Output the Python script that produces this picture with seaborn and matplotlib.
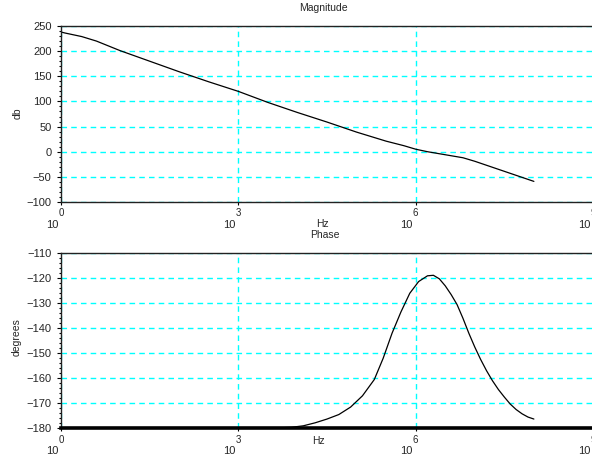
import numpy as np
import pandas as pd
import matplotlib
matplotlib.use("Agg")
import matplotlib.pyplot as plt
import seaborn as sns
from matplotlib.ticker import FixedLocator, MultipleLocator, NullLocator

# ---- data (x as log10 of frequency in Hz) ----
mag_logf = [0.0, 0.07, 0.15, 0.35, 0.6, 1.0, 1.5, 2.0, 2.5, 3.0, 3.5, 4.0, 4.5,
            5.0, 5.5, 5.8, 6.0, 6.2, 6.4, 6.6, 6.8, 7.0, 7.3, 7.6, 8.0]
mag_db = [238, 236, 234, 229, 220, 201, 180, 159, 139, 120, 98, 78, 59,
          39, 21, 12, 5, 0, -4, -8, -12, -19, -31, -43, -59]

phase_logf = [0.0, 1.0, 2.0, 3.0, 3.6, 3.9, 4.1, 4.3, 4.5, 4.7, 4.9, 5.1,
              5.3, 5.45, 5.6, 5.75, 5.9, 6.05, 6.2, 6.3, 6.4, 6.5, 6.6, 6.7,
              6.8, 6.9, 7.0, 7.1, 7.2, 7.3, 7.4, 7.5, 7.6, 7.7, 7.8, 7.9, 8.0]
phase_deg = [-180, -180, -180, -180, -179.9, -179.6, -179.0, -177.8, -176.3,
             -174.5, -171.5, -167.0, -160.5, -152.0, -142.0, -133.5, -126.0,
             -121.3, -119.0, -118.8, -120.2, -123.0, -126.5, -130.5, -136.0,
             -142.0, -147.5, -152.5, -157.0, -161.0, -164.5, -167.5, -170.3,
             -172.5, -174.2, -175.5, -176.3]

xtick_exponents = [0, 3, 6, 9]
mag_yticks = [-100, -50, 0, 50, 100, 150, 200, 250]
phase_yticks = [-180, -170, -160, -150, -140, -130, -120, -110]

sns.set_style("white")
plt.rcParams['font.family'] = ['Liberation Sans', 'DejaVu Sans']

W, H = 592, 458
fig = plt.figure(figsize=(W / 100, H / 100), dpi=100)
ax1 = fig.add_axes([61 / W, 1 - 202 / H, 532 / W, 176 / H])
ax2 = fig.add_axes([61 / W, 1 - 428.3 / H, 532 / W, 175 / H])

df_mag = pd.DataFrame({"Hz": 10.0 ** np.array(mag_logf), "db": mag_db})
df_ph = pd.DataFrame({"Hz": 10.0 ** np.array(phase_logf), "degrees": phase_deg})

sns.lineplot(data=df_mag, x="Hz", y="db", ax=ax1, color="black", lw=0.9,
             estimator=None, sort=False)
sns.lineplot(data=df_ph, x="Hz", y="degrees", ax=ax2, color="black", lw=0.9,
             estimator=None, sort=False)


def style(ax, yticks, minor_step):
    ax.set_xscale("log")
    ax.set_xlim(10.0 ** xtick_exponents[0], 10.0 ** xtick_exponents[-1])
    ax.set_ylim(yticks[0], yticks[-1])
    ax.xaxis.set_major_locator(FixedLocator([10.0 ** e for e in xtick_exponents]))
    ax.xaxis.set_minor_locator(NullLocator())
    ax.set_xticklabels([str(e) for e in xtick_exponents])
    ax.yaxis.set_major_locator(FixedLocator(yticks))
    ax.yaxis.set_minor_locator(MultipleLocator(minor_step))
    ax.tick_params(axis='x', which='major', direction='out', length=2.5,
                   width=0.8, pad=2.0, labelsize=7, bottom=True, color='black')
    ax.tick_params(axis='y', which='major', direction='out', length=3,
                   width=0.8, pad=3.8, labelsize=8, left=True, color='black')
    ax.tick_params(axis='y', which='minor', direction='out', length=1.6,
                   width=0.8, left=True, color='black')
    ax.grid(True, which='major', color='#00FFFF', linestyle=(0, (4, 3)), lw=1)
    ax.set_axisbelow(True)
    ax.set_xlabel("")
    ax.set_ylabel("")
    for s in ax.spines.values():
        s.set_color("#222222")
        s.set_linewidth(1.0)
    for e in xtick_exponents:
        ax.annotate("10", xy=(10.0 ** e, 0), xycoords=ax.get_xaxis_transform(),
                    xytext=(-9, -23), textcoords='offset pixels',
                    ha='center', va='center', fontsize=8,
                    annotation_clip=False)


style(ax1, mag_yticks, 10)
style(ax2, phase_yticks, 2)
ax2.spines['bottom'].set_linewidth(2.6)
ax2.spines['bottom'].set_color('black')

fig.text(323 / W, 1 - 8 / H, "Magnitude", ha='center', va='center', fontsize=7.5)
fig.text(322 / W, 1 - 224 / H, "Hz", ha='center', va='center', fontsize=7.5)
fig.text(325 / W, 1 - 235 / H, "Phase", ha='center', va='center', fontsize=7.5)
fig.text(318 / W, 1 - 441 / H, "Hz", ha='center', va='center', fontsize=7.5)
fig.text(18 / W, 1 - 113 / H, "db", ha='center', va='center', fontsize=7.5,
         rotation=90)
fig.text(17 / W, 1 - 337 / H, "degrees", ha='center', va='center',
         fontsize=7.5, rotation=90)

fig.savefig("out.png", dpi=100)
